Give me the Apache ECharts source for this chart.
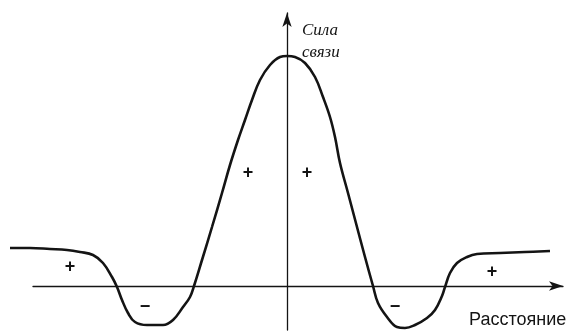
<!DOCTYPE html>
<html>
<head>
<meta charset="utf-8">
<script src="https://cdn.jsdelivr.net/npm/echarts@6/dist/echarts.min.js"></script>
<style>
  html, body { margin: 0; padding: 0; background: #fff; }
  #chart { width: 567px; height: 332px; }
</style>
</head>
<body>
<div id="chart"></div>
<script>
// Bond strength as a function of distance (arbitrary units)
const distance = [
  -27.7, -25.7, -23.7, -22.0, -20.7, -19.4, -18.4, -17.5, -17.0, -16.5,
  -15.9, -15.2, -14.0, -12.4, -11.4, -10.4, -9.7, -9.3, -8.5, -7.5,
  -6.5, -5.7, -4.9, -4.2, -3.5, -2.7, -1.7, -0.7, 0.0, 0.8,
  1.8, 2.8, 3.6, 4.3, 4.8, 5.3, 6.1, 7.0, 7.8, 8.6,
  9.1, 10.0, 11.0, 11.8, 12.8, 14.0, 14.8, 15.5, 15.8, 16.3,
  17.0, 18.0, 19.0, 21.3, 23.8, 26.3
];
const strength = [
  3.8, 3.8, 3.7, 3.6, 3.4, 3.1, 2.3, 0.9, -0.1, -1.4,
  -2.7, -3.6, -3.9, -3.9, -3.4, -2.1, -1.1, 0.0, 2.6, 5.9,
  9.3, 12.1, 14.6, 16.6, 18.6, 20.6, 22.1, 22.9, 23.0, 22.9,
  22.3, 20.9, 18.9, 16.9, 14.9, 12.3, 9.3, 5.9, 2.9, 0.0,
  -1.7, -3.1, -4.1, -4.2, -3.9, -3.2, -2.4, -1.0, -0.1, 1.3,
  2.3, 2.9, 3.2, 3.3, 3.4, 3.5
];

// Axis labels and region signs
const yAxisTitle = ['Сила', 'связи'];
const xAxisTitle = 'Расстояние';
const regionSigns = ['+', '−', '+', '+', '−', '+'];

const points = distance.map((d, i) => [d, strength[i]]);
const ink = '#141414';

const chart = echarts.init(document.getElementById('chart'), null, { renderer: 'canvas' });

const arrowLine = {
  show: true,
  onZero: true,
  symbol: ['none', 'arrow'],
  symbolSize: [7, 14],
  lineStyle: { color: ink, width: 1.3 }
};
const bare = {
  type: 'value',
  axisTick: { show: false },
  axisLabel: { show: false },
  splitLine: { show: false }
};

const signPos = [[70, 267], [145, 307], [248, 173], [307, 173], [395, 307], [492, 272]];

chart.setOption({
  animation: false,
  backgroundColor: '#ffffff',
  grid: [
    // curve grid: reaches further left than the distance axis line
    { left: 10, right: 4, top: 13, bottom: 2 },
    // grid carrying the visible distance axis
    { left: 33, right: 4, top: 13, bottom: 2 }
  ],
  xAxis: [
    Object.assign({}, bare, { gridIndex: 0, min: -27.7, max: 27.6, axisLine: { show: false } }),
    Object.assign({}, bare, { gridIndex: 1, min: -25.4, max: 27.6, axisLine: arrowLine })
  ],
  yAxis: [
    Object.assign({}, bare, { gridIndex: 0, min: -4.4, max: 27.3, axisLine: arrowLine }),
    Object.assign({}, bare, { gridIndex: 1, min: -4.4, max: 27.3, axisLine: { show: false } })
  ],
  series: [{
    type: 'line',
    xAxisIndex: 0,
    yAxisIndex: 0,
    data: points,
    smooth: 0.4,
    showSymbol: false,
    lineStyle: { color: ink, width: 2.6 }
  }],
  graphic: [
    {
      type: 'text', left: 302, top: 22,
      style: { text: yAxisTitle[0], font: 'italic 17px "Liberation Serif"', fill: ink }
    },
    {
      type: 'text', left: 302, top: 44,
      style: { text: yAxisTitle[1], font: 'italic 17px "Liberation Serif"', fill: ink }
    },
    {
      type: 'text', left: 469, top: 311,
      style: { text: xAxisTitle, font: '18px "Liberation Sans"', fill: ink }
    }
  ].concat(regionSigns.map((s, i) => ({
    type: 'text',
    x: signPos[i][0], y: signPos[i][1],
    style: {
      text: s, font: 'bold 18px "Liberation Sans"', fill: ink,
      align: 'center', verticalAlign: 'middle'
    }
  })))
});
</script>
</body>
</html>
